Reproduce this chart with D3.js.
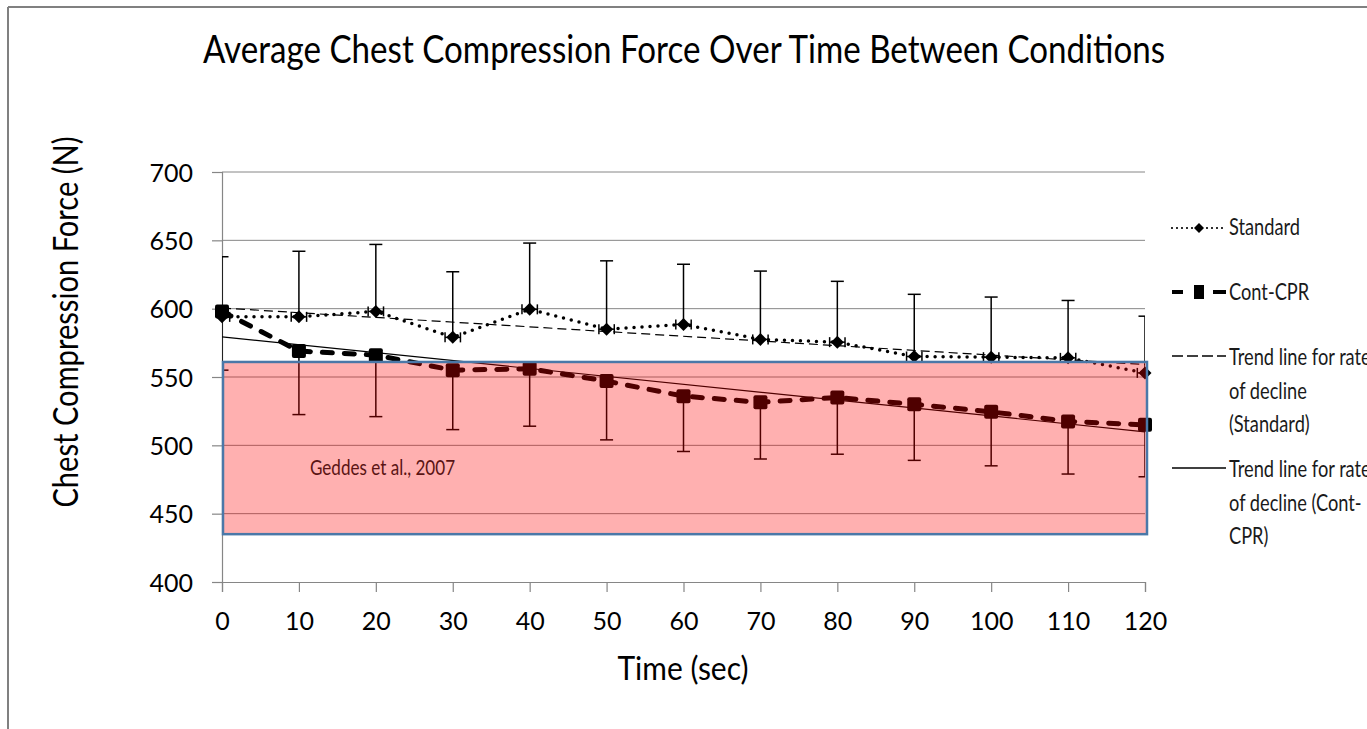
<!DOCTYPE html>
<html>
<head>
<meta charset="utf-8">
<script src="https://cdn.jsdelivr.net/npm/d3@7/dist/d3.min.js"></script>
<style>
  body { margin: 0; background: #fff; }
  text { font-family: Lato, "Open Sans", sans-serif; fill: #000; }
</style>
</head>
<body>
<div id="chart"></div>
<script>
// chart values
var times = [0, 10, 20, 30, 40, 50, 60, 70, 80, 90, 100, 110, 120];
var standardMean = [594, 594, 598, 579, 599.5, 585, 588.5, 577.5, 575.5, 565, 564.5, 564, 553];
var standardErr  = [44, 48, 49, 48, 48.5, 50, 44, 50, 44.5, 45.5, 44, 42, 41.5];   // drawn upward only
var contMean = [598, 569, 566, 555, 556, 547, 536, 531.5, 535, 530, 524.5, 517.5, 515];
var contErr  = [43, 46.5, 45, 43.5, 42, 43, 40.5, 41.5, 41.5, 41, 39.5, 38.5, 38];  // drawn downward only
var timeErr = 1;   // small horizontal error bars on Standard
var yTicks = [400, 450, 500, 550, 600, 650, 700];
var xTicks = times;
var geddesRange = [435, 561];
var legendItems = [
  { key: "standard", lines: ["Standard"] },
  { key: "cont", lines: ["Cont-CPR"] },
  { key: "trendStd", lines: ["Trend line for rate", "of decline", "(Standard)"] },
  { key: "trendCont", lines: ["Trend line for rate", "of decline (Cont-", "CPR)"] }
];

var width = 1367, height = 729;
var svg = d3.select("#chart").append("svg")
  .attr("width", width)
  .attr("height", height);

// outer frame (only left and top edges are visible)
svg.append("line").attr("x1", 8).attr("y1", 7).attr("x2", 8).attr("y2", height)
  .attr("stroke", "#808080").attr("stroke-width", 2);
svg.append("line").attr("x1", 8).attr("y1", 7).attr("x2", width).attr("y2", 7)
  .attr("stroke", "#808080").attr("stroke-width", 2);

var x = d3.scaleLinear().domain([0, 120]).range([222, 1145]);
var y = d3.scaleLinear().domain([400, 700]).range([582, 172]);

// fit a text element to a width in pixels
function fitText(sel, w) {
  var len = sel.node().getComputedTextLength();
  var fs = parseFloat(sel.attr("font-size"));
  sel.attr("font-size", (fs * w / len).toFixed(2));
  return sel;
}
// the picture's text is drawn a bit taller than the font's normal shape
function placeText(px, py, rot, stretch) {
  return "translate(" + px + "," + py + ")" + (rot ? " rotate(" + rot + ")" : "") + " scale(1," + stretch + ")";
}

// title
fitText(svg.append("text")
  .attr("transform", placeText(684, 63, 0, 1.15))
  .attr("text-anchor", "middle")
  .attr("font-size", 30)
  .text("Average Chest Compression Force Over Time Between Conditions"), 962);

// gridlines
svg.append("g").selectAll("line")
  .data(yTicks.filter(function(d) { return d > 400; }))
  .enter().append("line")
  .attr("x1", x(0)).attr("x2", x(120))
  .attr("y1", function(d) { return y(d); })
  .attr("y2", function(d) { return y(d); })
  .attr("stroke", "#868686").attr("stroke-width", 1);

// axes
var yAxis = svg.append("g")
  .attr("transform", "translate(" + x(0) + ",0)")
  .call(d3.axisLeft(y).tickValues(yTicks).tickSize(10).tickPadding(19));
var xAxis = svg.append("g")
  .attr("transform", "translate(0," + y(400) + ")")
  .call(d3.axisBottom(x).tickValues(xTicks).tickSize(10).tickPadding(20));
[yAxis, xAxis].forEach(function(a) {
  a.select(".domain").attr("stroke", "#868686").attr("stroke-width", 1.2);
  a.selectAll(".tick line").attr("stroke", "#868686").attr("stroke-width", 1.2);
  a.selectAll(".tick text").attr("font-size", 25).attr("font-family", "Lato, sans-serif").attr("fill", "#000");
});
yAxis.selectAll(".tick text").attr("dy", "0.36em");
xAxis.selectAll(".tick text").attr("dy", "0.72em");

// axis titles
fitText(svg.append("text")
  .attr("transform", placeText(78, 322, -90, 1.2))
  .attr("text-anchor", "middle")
  .attr("font-size", 22)
  .text("Chest Compression Force (N)"), 371);
fitText(svg.append("text")
  .attr("transform", placeText(683, 680, 0, 1.12))
  .attr("text-anchor", "middle")
  .attr("font-size", 22)
  .text("Time (sec)"), 131);

// least squares trend line
function trend(xs, ys) {
  var mx = d3.mean(xs), my = d3.mean(ys);
  var num = d3.sum(xs, function(v, i) { return (v - mx) * (ys[i] - my); });
  var den = d3.sum(xs, function(v) { return (v - mx) * (v - mx); });
  var b = num / den, a = my - b * mx;
  return [[xs[0], a + b * xs[0]], [xs[xs.length - 1], a + b * xs[xs.length - 1]]];
}

var line = d3.line()
  .x(function(d) { return x(d[0]); })
  .y(function(d) { return y(d[1]); });

var standardPts = times.map(function(t, i) { return [t, standardMean[i]]; });
var contPts = times.map(function(t, i) { return [t, contMean[i]]; });

svg.append("path").attr("d", line(trend(times, standardMean)))
  .attr("fill", "none").attr("stroke", "#000").attr("stroke-width", 1.2)
  .attr("stroke-dasharray", "9 5");
svg.append("path").attr("d", line(trend(times, contMean)))
  .attr("fill", "none").attr("stroke", "#000").attr("stroke-width", 1.2);

// data lines
svg.append("path").attr("d", line(standardPts))
  .attr("fill", "none").attr("stroke", "#000").attr("stroke-width", 3.5)
  .attr("stroke-linecap", "round").attr("stroke-dasharray", "0 8");
svg.append("path").attr("d", line(contPts))
  .attr("fill", "none").attr("stroke", "#000").attr("stroke-width", 5)
  .attr("stroke-linecap", "round").attr("stroke-dasharray", "10 12");

// error bars, clipped to the plot area
svg.append("clipPath").attr("id", "plotClip")
  .append("rect").attr("x", x(0)).attr("y", y(700) - 20)
  .attr("width", x(120) - x(0)).attr("height", y(400) - y(700) + 40);
var eb = svg.append("g").attr("clip-path", "url(#plotClip)")
  .attr("stroke", "#000").attr("stroke-width", 1.5);
var cap = 6.5;

times.forEach(function(t, i) {
  var cx = x(t);
  // Standard: plus error
  var top = y(standardMean[i] + standardErr[i]);
  eb.append("line").attr("x1", cx).attr("x2", cx).attr("y1", y(standardMean[i])).attr("y2", top);
  eb.append("line").attr("x1", cx - cap).attr("x2", cx + cap).attr("y1", top).attr("y2", top);
  // Standard: horizontal error
  var sy = y(standardMean[i]);
  eb.append("line").attr("x1", x(t - timeErr)).attr("x2", x(t + timeErr)).attr("y1", sy).attr("y2", sy);
  eb.append("line").attr("x1", x(t - timeErr)).attr("x2", x(t - timeErr)).attr("y1", sy - 5).attr("y2", sy + 5);
  eb.append("line").attr("x1", x(t + timeErr)).attr("x2", x(t + timeErr)).attr("y1", sy - 5).attr("y2", sy + 5);
  // Cont-CPR: minus error
  var bot = y(contMean[i] - contErr[i]);
  eb.append("line").attr("x1", cx).attr("x2", cx).attr("y1", y(contMean[i])).attr("y2", bot);
  eb.append("line").attr("x1", cx - cap).attr("x2", cx + cap).attr("y1", bot).attr("y2", bot);
});

// markers
svg.append("g").selectAll("path")
  .data(standardPts)
  .enter().append("path")
  .attr("d", "M0,-6.5L6.5,0L0,6.5L-6.5,0Z")
  .attr("transform", function(d) { return "translate(" + x(d[0]) + "," + y(d[1]) + ")"; })
  .attr("fill", "#000");
svg.append("g").selectAll("rect")
  .data(contPts)
  .enter().append("rect")
  .attr("x", function(d) { return x(d[0]) - 7; })
  .attr("y", function(d) { return y(d[1]) - 7; })
  .attr("width", 14).attr("height", 14)
  .attr("rx", 2)
  .attr("fill", "#000");

// Geddes et al. range, semi-transparent red box over the plot
svg.append("rect")
  .attr("x", x(0) + 1).attr("y", y(geddesRange[1]))
  .attr("width", x(120) - x(0) + 1).attr("height", y(geddesRange[0]) - y(geddesRange[1]))
  .attr("fill", "#ff0000").attr("fill-opacity", 0.31)
  .attr("stroke", "#4a78a8").attr("stroke-width", 2.5);
fitText(svg.append("text")
  .attr("transform", placeText(310, 475, 0, 1.2))
  .attr("font-size", 14)
  .style("fill", "#5a1414")
  .text("Geddes et al., 2007"), 145);

// legend
var legend = svg.append("g");
var symX0 = 1172, symX1 = 1226, textX = 1229;
var symY = [228, 292, 356, 468];
var baseY = [235, 300, 365, 477];
var lineGap = 33.5;

legendItems.forEach(function(item, i) {
  var g = legend.append("g");
  var sy = symY[i];
  if (item.key === "standard") {
    g.append("line").attr("x1", symX0).attr("x2", symX1).attr("y1", sy).attr("y2", sy)
      .attr("stroke", "#000").attr("stroke-width", 2.2).attr("stroke-linecap", "round")
      .attr("stroke-dasharray", "0 5");
    g.append("path").attr("d", "M0,-5L5,0L0,5L-5,0Z")
      .attr("transform", "translate(" + (symX0 + symX1) / 2 + "," + sy + ")").attr("fill", "#000");
  } else if (item.key === "cont") {
    g.append("line").attr("x1", symX0).attr("x2", symX1).attr("y1", sy).attr("y2", sy)
      .attr("stroke", "#000").attr("stroke-width", 4).attr("stroke-dasharray", "11 30");
    g.append("line").attr("x1", symX1 - 13).attr("x2", symX1).attr("y1", sy).attr("y2", sy)
      .attr("stroke", "#000").attr("stroke-width", 4);
    g.append("rect").attr("x", (symX0 + symX1) / 2 - 5).attr("y", sy - 7)
      .attr("width", 10).attr("height", 14).attr("fill", "#000");
  } else if (item.key === "trendStd") {
    g.append("line").attr("x1", symX0).attr("x2", symX1).attr("y1", sy).attr("y2", sy)
      .attr("stroke", "#000").attr("stroke-width", 1.3).attr("stroke-dasharray", "11 4");
  } else {
    g.append("line").attr("x1", symX0).attr("x2", symX1).attr("y1", sy).attr("y2", sy)
      .attr("stroke", "#000").attr("stroke-width", 1.3);
  }
  item.lines.forEach(function(l, j) {
    g.append("text")
      .attr("class", "legtext")
      .attr("transform", placeText(textX, baseY[i] + j * lineGap, 0, 1.25))
      .attr("font-size", 20)
      .style("fill", "#1a1a1a")
      .text(l);
  });
});
// size legend text so "Standard" is as wide as in the picture
var legLen = legend.select(".legtext").node().getComputedTextLength();
legend.selectAll(".legtext").attr("font-size", (20 * 71 / legLen).toFixed(2));
</script>
</body>
</html>
